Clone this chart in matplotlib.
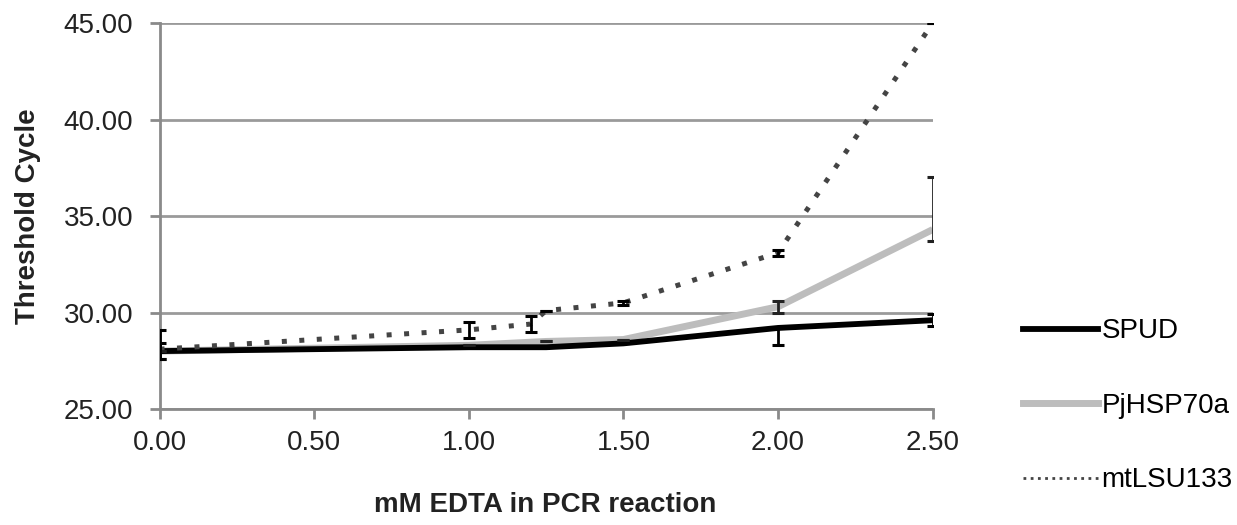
import matplotlib.pyplot as plt
from matplotlib.lines import Line2D

plt.rcParams['font.family'] = ['Liberation Sans', 'DejaVu Sans']

# data
edta = [0.0, 1.0, 1.25, 1.5, 2.0, 2.5]
spud = [28.0, 28.2, 28.2, 28.4, 29.2, 29.6]
spud_lo = [0.4, 0.0, 0.0, 0.0, 0.9, 0.3]
spud_hi = [0.4, 0.0, 0.0, 0.0, 0.0, 0.3]
hsp = [28.0, 28.3, 28.5, 28.6, 30.3, 34.3]
hsp_lo = [0.0, 0.0, 0.0, 0.0, 0.3, 0.6]
hsp_hi = [0.0, 0.0, 0.0, 0.0, 0.3, 2.7]
edta_mt = [0.0, 1.0, 1.2, 1.25, 1.5, 2.0, 2.5]
mtlsu = [28.1, 29.1, 29.4, 30.1, 30.5, 33.1, 45.0]
mt_lo = [0.5, 0.4, 0.4, 0.0, 0.1, 0.15, 0.0]
mt_hi = [1.0, 0.4, 0.4, 0.0, 0.1, 0.15, 0.0]
xticks = [0.0, 0.5, 1.0, 1.5, 2.0, 2.5]
yticks = [25, 30, 35, 40, 45]

fig = plt.figure(figsize=(12.37, 5.25), dpi=100)
ax = fig.add_axes([0.129, 0.221, 0.625, 0.735])

for y in yticks:
    ax.axhline(y, color='#9a9a9a', lw=2, zorder=0)

ax.plot(edta, spud, color='black', lw=4.2, solid_capstyle='butt', zorder=3)
ax.plot(edta, hsp, color='#bdbdbd', lw=5, solid_capstyle='butt', zorder=2)
ax.plot(edta_mt, mtlsu, color='#444444', lw=3.6, linestyle=(0, (1, 2.5)), zorder=4)

ax.errorbar(edta, spud, yerr=[spud_lo, spud_hi], fmt='none', ecolor='black',
            elinewidth=2, capsize=4.5, capthick=2.2, zorder=5)
ax.errorbar(edta, hsp, yerr=[hsp_lo, hsp_hi], fmt='none', ecolor='#222222',
            elinewidth=2, capsize=4.5, capthick=2.2, zorder=5)
ax.errorbar(edta_mt, mtlsu, yerr=[mt_lo, mt_hi], fmt='none', ecolor='black',
            elinewidth=2, capsize=4.5, capthick=2.2, zorder=5)

ax.set_xlim(0, 2.5)
ax.set_ylim(25, 45)
ax.set_xticks(xticks)
ax.set_xticklabels(['%.2f' % v for v in xticks])
ax.set_yticks(yticks)
ax.set_yticklabels(['%.2f' % v for v in yticks])
ax.tick_params(axis='both', labelsize=20, colors='#8a8a8a', labelcolor='#222222',
               length=7, width=2, direction='out')
ax.tick_params(axis='x', pad=8)
ax.tick_params(axis='y', pad=12)

for s in ['top', 'right']:
    ax.spines[s].set_visible(False)
for s in ['left', 'bottom']:
    ax.spines[s].set_color('#8a8a8a')
    ax.spines[s].set_linewidth(2)

ax.set_ylabel('Threshold Cycle', fontsize=20, fontweight='bold', color='#222222')
ax.yaxis.set_label_coords(-0.153, 0.5)
fig.text(0.441, 0.038, 'mM EDTA in PCR reaction', fontsize=20, fontweight='bold',
         color='#222222', ha='center', va='center')

handles = [Line2D([], [], color='black', lw=4.2),
           Line2D([], [], color='#bdbdbd', lw=5),
           Line2D([], [], color='#444444', lw=2, linestyle=(0, (1, 1.6)))]
fig.legend(handles, ['SPUD', 'PjHSP70a', 'mtLSU133'], loc='upper left',
           bbox_to_anchor=(0.818, 0.415), frameon=False, fontsize=20,
           handlelength=2.7, handletextpad=0.12, labelspacing=1.75, borderaxespad=0)

fig.savefig('out.png', dpi=100)
